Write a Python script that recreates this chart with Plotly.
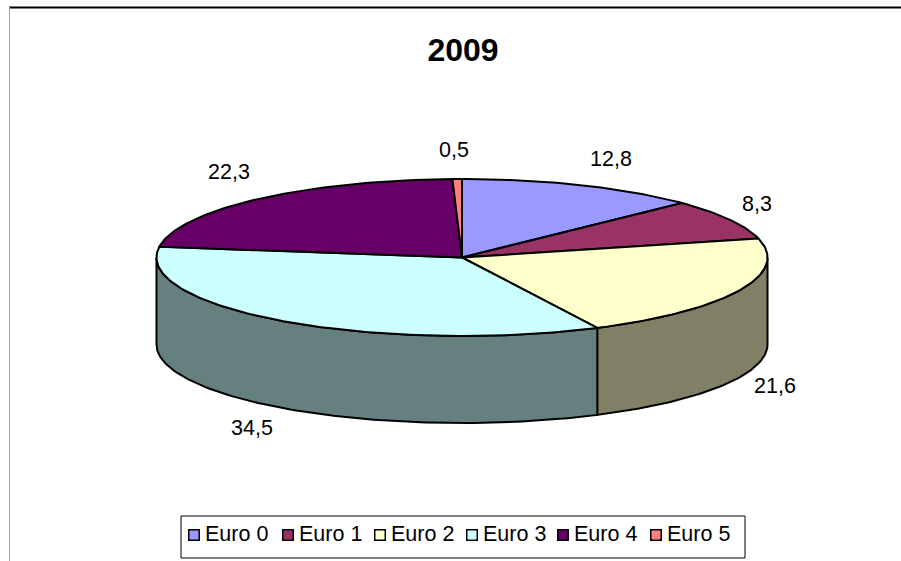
import math
import plotly.graph_objects as go

title = "2009"
categories = ["Euro 0", "Euro 1", "Euro 2", "Euro 3", "Euro 4", "Euro 5"]
values = [12.8, 8.3, 21.6, 34.5, 22.3, 0.5]
top_colors = ["#9999FF", "#993366", "#FFFFCC", "#CCFFFF", "#660066", "#FF8080"]
side_colors = ["#7A7ACC", "#7A2952", "#808066", "#668080", "#520052", "#CC6666"]

CX, CY, RX, RY, DEPTH = 462, 257.5, 305.5, 78.5, 87
LABEL_POS = [(611, 161), (757, 206), (775, 388), (252, 430), (229, 174), (454, 152)]
LEG_X0, LEG_X1, LEG_Y0, LEG_Y1 = 181, 745, 516, 558
LEG_SWATCH_X = [194, 288, 380, 472, 563, 656]
LEG_Y = 535


def pt(t_deg, drop=0.0):
    t = math.radians(t_deg)
    return CX + RX * math.sin(t), CY - RY * math.cos(t) + drop


def arc(a, b, drop=0.0, step=1.0):
    n = max(2, int(abs(b - a) / step) + 1)
    return [pt(a + (b - a) * i / (n - 1), drop) for i in range(n)]


total = sum(values)
edges = [0.0]
for v in values:
    edges.append(edges[-1] + v / total * 360)

fig = go.Figure()

# Visible outer wall (front half of the disc, 90..270 degrees)
for i, name in enumerate(categories):
    a, b = max(edges[i], 90), min(edges[i + 1], 270)
    if b <= a:
        continue
    upper = arc(a, b)
    lower = arc(b, a, DEPTH)
    poly = upper + lower + upper[:1]
    fig.add_trace(go.Scatter(
        x=[p[0] for p in poly], y=[p[1] for p in poly], mode="lines", fill="toself",
        fillcolor=side_colors[i], line=dict(color="black", width=2),
        showlegend=False, hoverinfo="skip"))

# Top face slices
for i, name in enumerate(categories):
    poly = [(CX, CY)] + arc(edges[i], edges[i + 1]) + [(CX, CY)]
    fig.add_trace(go.Scatter(
        x=[p[0] for p in poly], y=[p[1] for p in poly], mode="lines", fill="toself",
        fillcolor=top_colors[i], line=dict(color="black", width=2),
        name=name, showlegend=False, hoverinfo="name"))

# Value labels
fig.add_trace(go.Scatter(
    x=[p[0] for p in LABEL_POS], y=[p[1] for p in LABEL_POS], mode="text",
    text=[f"{v:.1f}".replace(".", ",") for v in values], textposition="middle center",
    textfont=dict(family="Liberation Sans", size=21.5, color="black"),
    showlegend=False, hoverinfo="skip"))

# Legend row
for i, name in enumerate(categories):
    fig.add_trace(go.Scatter(
        x=[LEG_SWATCH_X[i]], y=[LEG_Y], mode="markers",
        marker=dict(symbol="square", size=10.5, color=top_colors[i], line=dict(color="black", width=1.5)),
        showlegend=False, hoverinfo="skip"))
    fig.add_annotation(x=LEG_SWATCH_X[i] + 9, y=LEG_Y - 1, text=name, showarrow=False, xanchor="left",
                       yanchor="middle", xref="x", yref="y",
                       font=dict(family="Liberation Sans", size=21.5, color="black"))

shapes = [
    dict(type="line", x0=9, x1=901, y0=7.5, y1=7.5, line=dict(color="black", width=2)),
    dict(type="line", x0=9.5, x1=9.5, y0=7, y1=561, line=dict(color="#A0A0A0", width=1)),
    dict(type="rect", x0=LEG_X0, x1=LEG_X1, y0=LEG_Y0, y1=LEG_Y1, line=dict(color="black", width=1)),
]

fig.update_layout(
    width=901, height=561, autosize=False,
    margin=dict(l=0, r=0, t=0, b=0),
    paper_bgcolor="white", plot_bgcolor="white",
    xaxis=dict(range=[0, 901], visible=False, fixedrange=True),
    yaxis=dict(range=[561, 0], visible=False, fixedrange=True),
    shapes=shapes,
    title=dict(text=title, x=463 / 901, xanchor="center", y=1 - 50 / 561, yanchor="middle",
               font=dict(family="Liberation Sans", size=32, color="black", weight="bold")),
)
fig.write_html("out.html", config=dict(displayModeBar=False),
               post_script="document.body.style.margin='0';document.body.style.overflow='hidden';")
